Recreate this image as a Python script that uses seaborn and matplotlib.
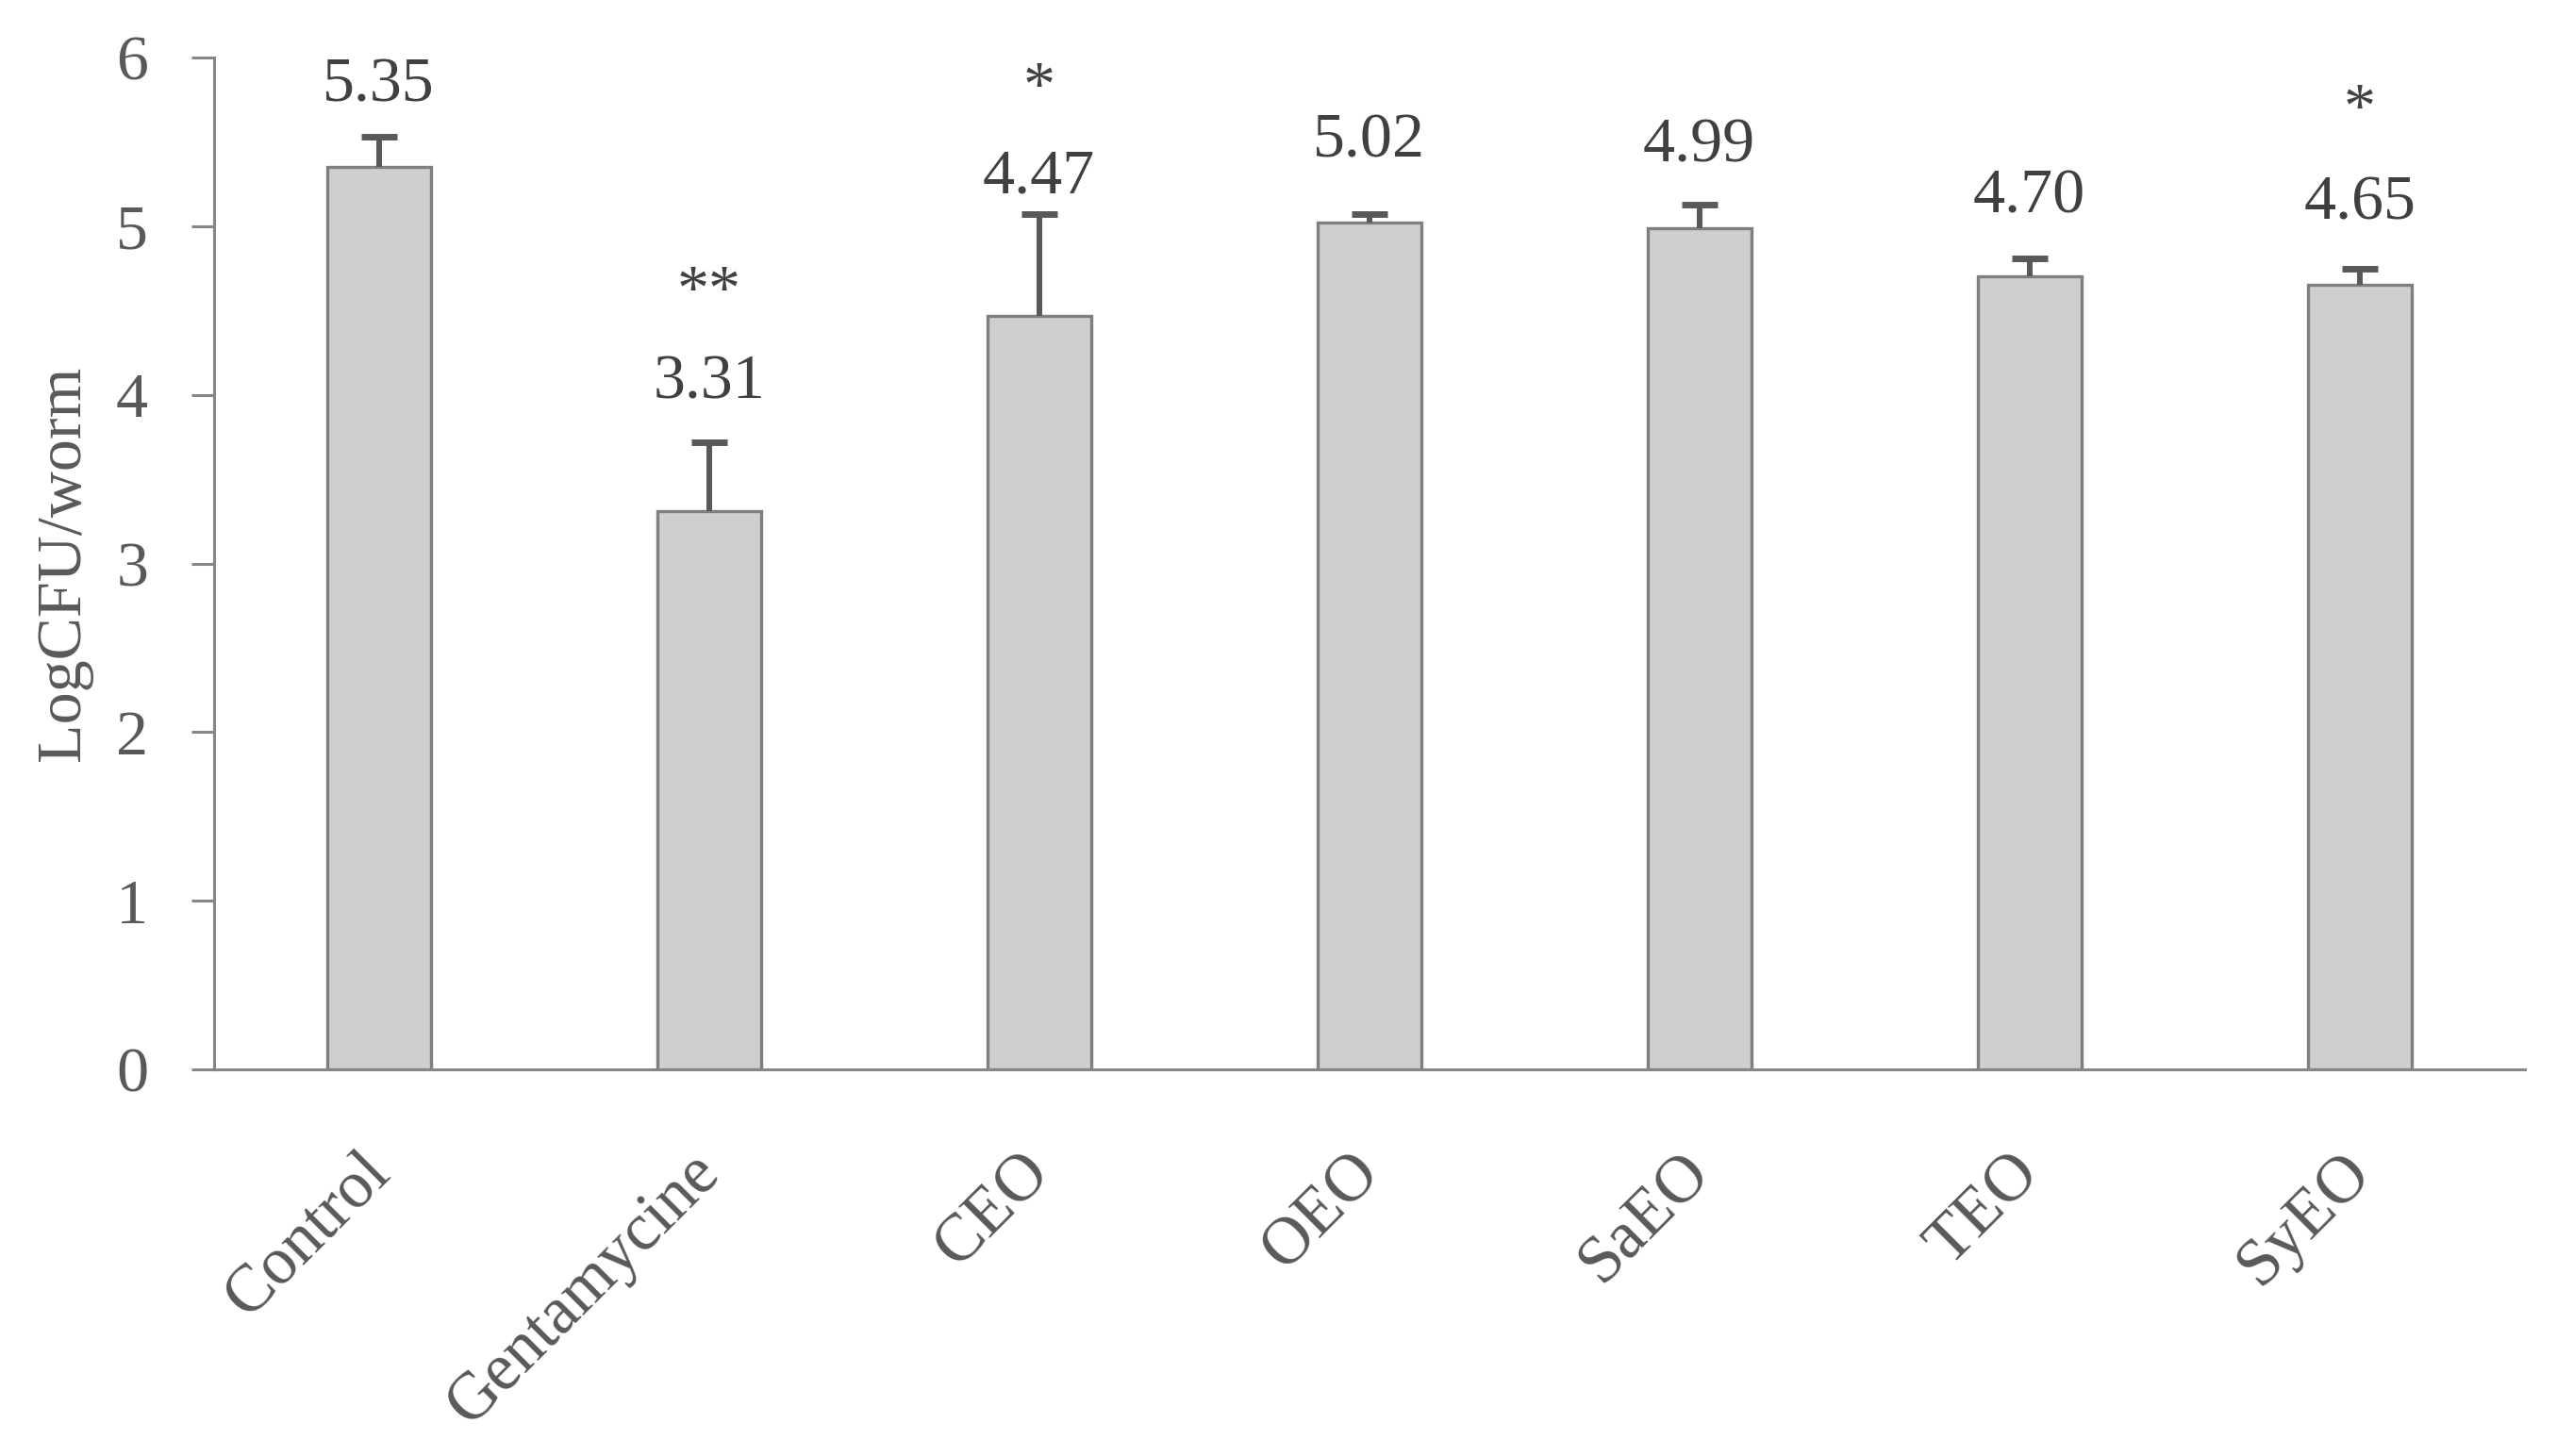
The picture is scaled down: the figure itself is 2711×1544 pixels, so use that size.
import matplotlib
matplotlib.use("Agg")
import matplotlib.pyplot as plt
import matplotlib.transforms as mtransforms
import seaborn as sns
import pandas as pd
import numpy as np

# ---- data ----
categories = ["Control", "Gentamycine", "CEO", "OEO", "SaEO", "TEO", "SyEO"]
means = [5.35, 3.31, 4.47, 5.02, 4.99, 4.70, 4.65]
errors = [0.18, 0.41, 0.60, 0.05, 0.14, 0.11, 0.10]
value_labels = ["5.35", "3.31", "4.47", "5.02", "4.99", "4.70", "4.65"]
significance = ["", "**", "*", "", "", "", "*"]
y_ticks = [0, 1, 2, 3, 4, 5, 6]
y_label = "LogCFU/worm"

# annotation positions (data units, baseline of text)
label_y = [5.74, 3.98, 5.20, 5.41, 5.38, 5.08, 5.04]
star_y = [None, 4.51, 5.72, None, None, None, 5.59]

sns.set_theme(style="white")
plt.rcParams["font.family"] = ["Liberation Serif", "DejaVu Serif"]

AXIS_C = "#868686"
TEXT_C = "#595959"
LABEL_C = "#404040"
FS = 49

df = pd.DataFrame({"group": categories, "mean": means})

fig = plt.figure(figsize=(27.11, 15.44), dpi=100)
ax = fig.add_axes([0.0836, 0.2655, 0.9037, 0.6950])

sns.barplot(data=df, x="group", y="mean", color="#D0CFD0", saturation=1,
            edgecolor="#7F7F7F", linewidth=2.4, width=0.314,
            errorbar=None, ax=ax)

eb = ax.errorbar(np.arange(len(categories)), means,
                 yerr=[np.zeros(len(errors)), errors],
                 fmt="none", ecolor="#595959", elinewidth=4.3,
                 capsize=14, capthick=5, zorder=5)
# keep only the upper caps (Excel-style "plus" error bars)
for cl in eb[1]:
    if np.allclose(np.asarray(cl.get_ydata(), dtype=float), means):
        cl.set_visible(False)

ax.set_xlim(-0.5, len(categories) - 0.5)
ax.set_ylim(0, 6)
ax.set_yticks(y_ticks)
ax.set_yticklabels([str(t) for t in y_ticks])

for s in ["top", "right"]:
    ax.spines[s].set_visible(False)
for s in ["left", "bottom"]:
    ax.spines[s].set_color(AXIS_C)
    ax.spines[s].set_linewidth(2.2)

ax.tick_params(axis="y", left=True, length=17, width=2.2, color=AXIS_C,
               pad=33, labelsize=FS, labelcolor=TEXT_C)
ax.tick_params(axis="x", bottom=False, length=0, pad=55,
               labelsize=51, labelcolor=TEXT_C)

offset = mtransforms.ScaledTranslation(-0.22, 0, fig.dpi_scale_trans)
for t in ax.get_xticklabels():
    t.set_rotation(45)
    t.set_ha("right")
    t.set_va("top")
    t.set_rotation_mode("anchor")
    t.set_transform(t.get_transform() + offset)

ax.set_xlabel("")
ax.set_ylabel(y_label, fontsize=FS, color=TEXT_C)
ax.yaxis.set_label_coords(-0.0525, 0.5)

for i, (lab, ly) in enumerate(zip(value_labels, label_y)):
    ax.text(i, ly, lab, ha="center", va="baseline", fontsize=FS, color=LABEL_C)
for i, (sig, sy) in enumerate(zip(significance, star_y)):
    if sig and sy is not None:
        ax.text(i, sy, sig, ha="center", va="baseline", fontsize=FS, color=LABEL_C)

fig.savefig("out.png", dpi=100, facecolor="white")
